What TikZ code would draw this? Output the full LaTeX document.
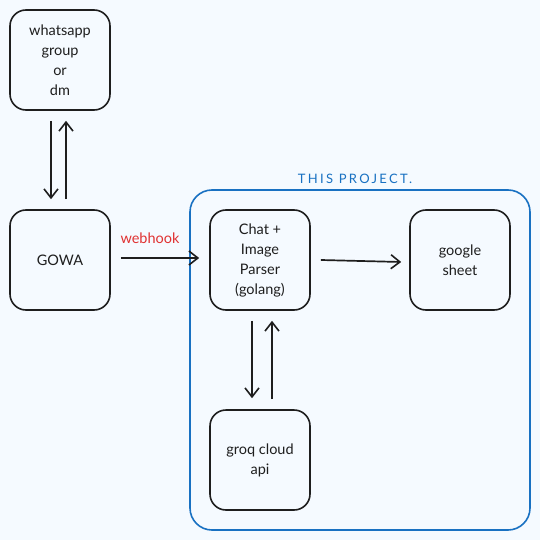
\documentclass[tikz,border=0pt]{standalone}
\usepackage{fontspec}
\setmainfont{Lato}
\usetikzlibrary{arrows.meta}
\definecolor{bg}{HTML}{F5FAFF}
\definecolor{frameblue}{HTML}{1971C2}
\definecolor{hookred}{HTML}{E03131}
\definecolor{ink}{HTML}{1E1E1E}
\begin{document}
\begin{tikzpicture}[x=1pt,y=-1pt,
  box/.style={draw=ink,line width=1.6pt,rounded corners=16pt,minimum width=100pt,minimum height=100pt,align=center,font=\fontsize{14.5}{20}\selectfont,text=ink,inner sep=0pt},
  conn/.style={draw=ink,line width=1.7pt,-{Straight Barb[length=9pt,width=14pt,line width=1.6pt]}}]
\fill[bg] (0,0) rectangle (540,540);
\useasboundingbox (0,0) rectangle (540,540);
\node[draw=frameblue,line width=1.6pt,rounded corners=22pt,minimum width=340pt,minimum height=340pt,inner sep=0pt] (frame) at (360,360) {};
\node[text=frameblue,font=\fontsize{13}{15}\selectfont\addfontfeature{LetterSpace=18}] (title) at (355,179) {THIS PROJECT.};
\node[box] (wa) at (60,60) {whatsapp\\group\\or\\dm};
\node[box] (gowa) at (60,260) {GOWA};
\node[box] (chat) at (260,260) {Chat +\\Image\\Parser\\(golang)};
\node[box] (sheet) at (460,260) {google\\sheet};
\node[box] (groq) at (260,460) {groq cloud\\api};
\draw[conn] ([xshift=-9pt,yshift=-10pt]wa.south) -- ([xshift=-9pt,yshift=10pt]gowa.north);
\draw[conn] ([xshift=6pt,yshift=10pt]gowa.north) -- ([xshift=6pt,yshift=-10pt]wa.south);
\draw[conn] ([xshift=10pt,yshift=2pt]gowa.east) -- ([xshift=-10pt,yshift=2pt]chat.west) node[pos=0.5,above=10pt,xshift=-10pt,text=hookred,font=\fontsize{14.5}{16}\selectfont] (hook) {webhook};
\draw[conn] ([xshift=10pt,yshift=0pt]chat.east) -- ([xshift=-8pt,yshift=-2pt]sheet.west);
\draw[conn] ([xshift=-8pt,yshift=-10pt]chat.south) -- ([xshift=-8pt,yshift=11pt]groq.north);
\draw[conn] ([xshift=12pt,yshift=10pt]groq.north) -- ([xshift=12pt,yshift=-10pt]chat.south);
\end{tikzpicture}
\end{document}
